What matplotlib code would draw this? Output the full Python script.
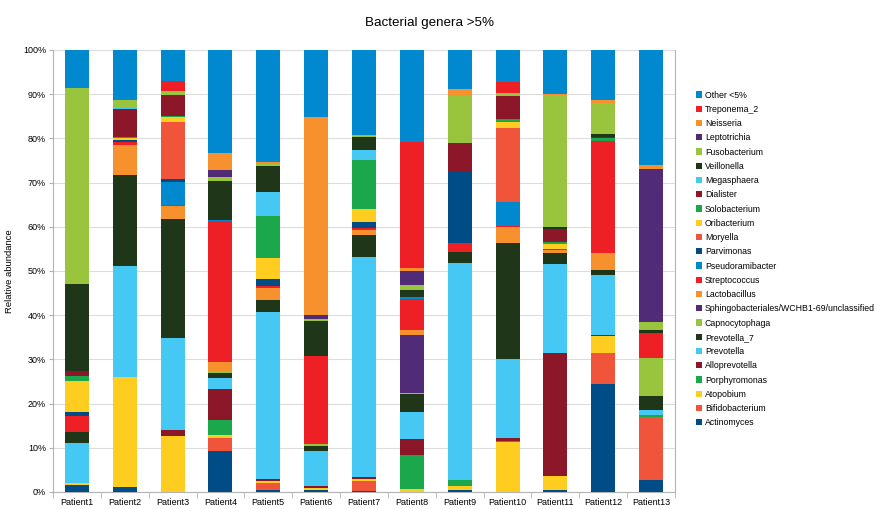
import matplotlib.pyplot as plt
import numpy as np
from matplotlib.patches import Patch
from matplotlib.ticker import FixedLocator, PercentFormatter

plt.rcParams['font.family'] = ['Liberation Sans', 'DejaVu Sans']

patients = ["Patient%d" % i for i in range(1, 14)]

# percent per patient, bottom of the stack first
actinomyces      = [1.5, 1.1, 0, 9.3, 0.4, 0.4, 0.2, 0, 0.4, 0, 0.4, 24.4, 2.8]
bifidobacterium  = [0, 0, 0, 3.0, 1.7, 0, 2.3, 0, 0, 0, 0, 7.1, 14.2]
atopobium        = [0.5, 24.9, 12.7, 0.7, 0.3, 0.5, 0.5, 0.6, 0.9, 11.2, 3.2, 3.8, 0]
porphyromonas    = [0, 0, 0, 3.2, 0, 0, 0, 7.7, 1.5, 0.3, 0, 0, 0.4]
alloprevotella   = [0, 0, 1.4, 7.1, 0.5, 0.4, 0.4, 3.8, 0, 0.8, 27.9, 0.3, 0]
prevotella       = [9.1, 25.1, 20.8, 2.5, 37.8, 7.9, 49.7, 6.0, 49.1, 17.7, 20.2, 13.6, 1.1]
prevotella_7     = [2.4, 20.5, 26.9, 1.1, 2.8, 1.2, 5.1, 4.0, 2.5, 26.4, 2.5, 1.0, 3.2]
capnocytophaga   = [0, 0, 0, 0.4, 0, 0.4, 0, 0.4, 0, 0, 0, 0, 8.7]
sphingo          = [0, 0, 0, 0, 0, 0, 0, 13.0, 0, 0, 0, 0, 0]
lactobacillus    = [0, 6.7, 2.9, 2.1, 2.6, 0, 1.0, 1.1, 0, 3.6, 0.5, 3.9, 0]
streptococcus    = [3.8, 0.8, 0.2, 31.8, 0.6, 20.0, 0.5, 7.0, 1.9, 0.2, 0.3, 25.5, 5.7]
pseudoramibacter = [0, 0, 5.4, 0.4, 0, 0, 0, 0.5, 0, 5.4, 0, 0, 0]
parvimonas       = [0.9, 0.3, 0.5, 0, 1.5, 0, 1.3, 0, 16.0, 0, 0, 0, 0]
moryella         = [0, 0, 12.9, 0, 0, 0, 0, 0, 0, 16.8, 0, 0, 0]
oribacterium     = [6.9, 0.5, 1.2, 0, 4.8, 0, 3.1, 0, 0, 1.4, 1.2, 0, 0]
solobacterium    = [1.1, 0.3, 0.2, 0, 9.4, 0, 11.1, 0, 0, 0.6, 0.4, 0.5, 0]
dialister        = [1.1, 6.3, 4.8, 0, 0, 0, 0, 0, 6.6, 5.2, 2.9, 0.4, 0]
megasphaera      = [0, 0.5, 0, 0, 5.5, 0, 2.1, 0, 0, 0, 0, 0, 0]
veillonella      = [19.8, 0, 0, 8.8, 5.9, 7.8, 3.0, 1.7, 0, 0, 0.4, 0.6, 0.6]
fusobacterium    = [44.2, 1.5, 0.8, 0.9, 0.5, 0.5, 0.5, 1.1, 10.8, 0.6, 30.0, 7.1, 1.9]
leptotrichia     = [0, 0, 0, 1.5, 0, 0.9, 0, 3.2, 0, 0, 0, 0, 34.6]
neisseria        = [0, 0, 0, 3.8, 0.4, 44.8, 0, 0.6, 1.5, 0, 0.2, 0.5, 0.9]
treponema_2      = [0, 0, 2.4, 0, 0, 0, 0, 28.5, 0, 2.5, 0, 0, 0]
other            = [8.7, 11.3, 7.0, 23.4, 25.3, 15.2, 19.2, 20.8, 8.8, 7.3, 10.0, 11.4, 26.0]

series = [
    ("Actinomyces", actinomyces),
    ("Bifidobacterium", bifidobacterium),
    ("Atopobium", atopobium),
    ("Porphyromonas", porphyromonas),
    ("Alloprevotella", alloprevotella),
    ("Prevotella", prevotella),
    ("Prevotella_7", prevotella_7),
    ("Capnocytophaga", capnocytophaga),
    ("Sphingobacteriales/WCHB1-69/unclassified", sphingo),
    ("Lactobacillus", lactobacillus),
    ("Streptococcus", streptococcus),
    ("Pseudoramibacter", pseudoramibacter),
    ("Parvimonas", parvimonas),
    ("Moryella", moryella),
    ("Oribacterium", oribacterium),
    ("Solobacterium", solobacterium),
    ("Dialister", dialister),
    ("Megasphaera", megasphaera),
    ("Veillonella", veillonella),
    ("Fusobacterium", fusobacterium),
    ("Leptotrichia", leptotrichia),
    ("Neisseria", neisseria),
    ("Treponema_2", treponema_2),
    ("Other <5%", other),
]

# 12-colour palette, repeated for the second dozen
palette = ['#004c86', '#f0553c', '#ffcd20', '#1aa84b', '#8b1728', '#46c8f4',
           '#1f3618', '#98c53d', '#522b78', '#f6912e', '#ee1f25', '#0089cf']

fig = plt.figure(figsize=(8.77, 5.09), dpi=100)
ax = fig.add_axes([0.0604, 0.0334, 0.7093, 0.8684])

data = np.array([v for _, v in series], dtype=float)
data = data / data.sum(axis=0)  # percent stacked
x = np.arange(len(patients))
bottom = np.zeros(len(patients))
handles = []
for i, (name, _) in enumerate(series):
    col = palette[i % 12]
    ax.bar(x, data[i], 0.5, bottom=bottom, color=col, edgecolor='none', zorder=3)
    bottom += data[i]
    handles.append(Patch(facecolor=col, edgecolor='none', label=name))

ax.set_xlim(-0.5, len(patients) - 0.5)
ax.set_ylim(0, 1)
ax.set_yticks(np.arange(0, 1.01, 0.1))
ax.yaxis.set_major_formatter(PercentFormatter(1.0, decimals=0))
ax.set_xticks(x)
ax.set_xticklabels(patients)
ax.xaxis.set_minor_locator(FixedLocator(np.arange(-0.5, len(patients), 1)))
ax.tick_params(axis='x', which='major', length=0, labelsize=6.5, pad=4)
ax.tick_params(axis='x', which='minor', length=4, color='#b3b3b3')
ax.tick_params(axis='y', length=3, color='#b3b3b3', labelsize=6.5, pad=2)
ax.grid(axis='y', color='#dddddd', linewidth=0.8, zorder=0)
for s in ['left', 'bottom', 'right']:
    ax.spines[s].set_color('#b3b3b3')
ax.spines['top'].set_visible(False)
ax.set_ylabel("Relative abundance", fontsize=6.8)
ax.yaxis.set_label_coords(-0.063, 0.5)

fig.text(0.49, 0.955, "Bacterial genera >5%", ha='center', va='center', fontsize=9.6)

fig.legend(handles[::-1], [h.get_label() for h in handles[::-1]],
           loc='upper left', bbox_to_anchor=(0.7936, 0.822), frameon=False,
           fontsize=6.3, handlelength=0.72, handleheight=0.72,
           handletextpad=0.3, labelspacing=0.6, borderpad=0, borderaxespad=0)

fig.savefig("out.png", dpi=100)
